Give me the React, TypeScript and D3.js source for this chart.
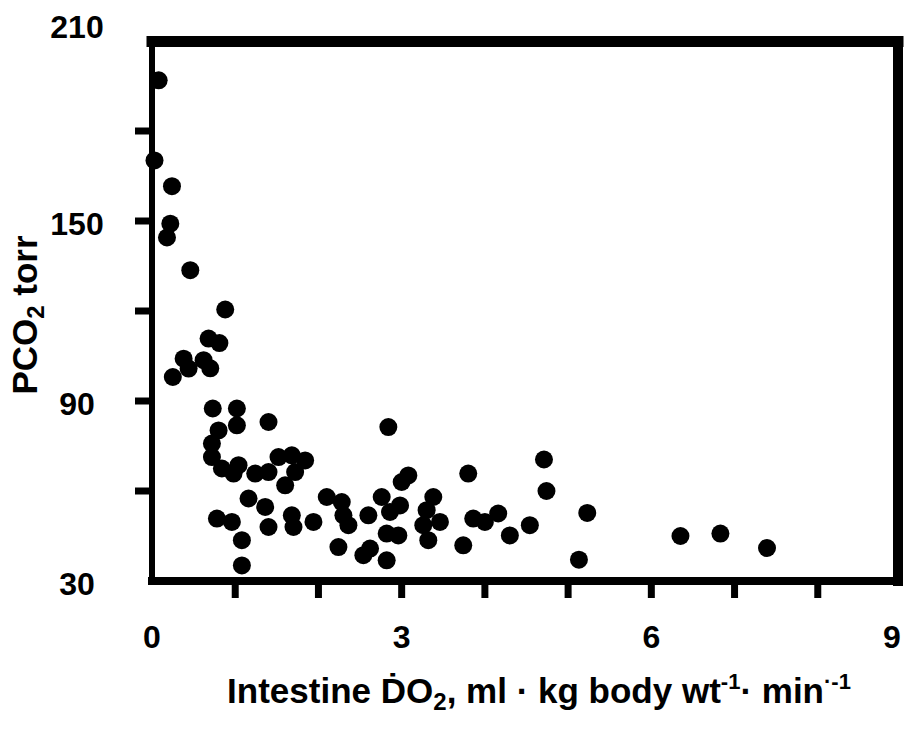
import React from "react";
import * as d3 from "d3";

// intestine oxygen delivery (ml/kg/min) and PCO2 (torr)
const do2 = [
  0.08, 0.03, 0.24, 0.22, 0.18, 0.46, 0.88, 0.68, 0.81, 0.38,
  0.44, 0.25, 0.62, 0.7, 0.73, 1.02, 1.4, 2.84, 0.8, 1.02,
  0.72, 0.72, 0.84, 1.04, 0.98, 1.24, 1.4, 1.52, 1.68, 1.84,
  1.72, 1.6, 1.16, 1.36, 0.78, 0.96, 1.08, 1.08, 1.4, 1.68,
  1.7, 1.94, 2.1, 2.28, 2.3, 2.36, 2.24, 2.6, 2.54, 2.62,
  2.82, 3.0, 3.08, 2.76, 2.86, 2.98, 2.82, 2.96, 3.38, 3.3,
  3.26, 3.46, 3.32, 3.8, 3.86, 4.0, 3.74, 4.16, 4.3, 4.54,
  4.71, 4.74, 5.23, 5.13, 6.35, 6.83, 7.39,
];
const pco2 = [
  196.9, 170.2, 161.6, 149.1, 144.5, 133.6, 120.5, 110.8, 109.3, 104.1,
  100.8, 98.0, 103.6, 100.9, 87.5, 87.5, 83.0, 81.3, 80.2, 81.9,
  75.8, 71.3, 67.5, 68.6, 65.8, 65.8, 66.3, 71.3, 71.9, 70.2,
  66.3, 61.9, 57.5, 54.7, 50.8, 49.7, 43.6, 35.2, 48.0, 51.9,
  48.0, 49.7, 58.0, 56.3, 51.9, 48.6, 41.3, 51.9, 38.6, 40.8,
  36.9, 63.0, 65.2, 58.0, 53.0, 55.2, 45.8, 45.2, 58.0, 53.6,
  48.6, 49.7, 43.6, 65.8, 50.8, 49.7, 41.9, 52.5, 45.2, 48.6,
  70.5, 60.0, 52.7, 37.1, 45.0, 45.8, 41.0,
];

const xTicks = [1, 2, 3, 4, 5, 6, 7, 8];
const xTickLabels = [0, 3, 6, 9];
const yTicks = [60, 90, 120, 150, 180];
const yTickLabels = [30, 90, 150, 210];

const W = 906;
const H = 732;
const FONT = "'Liberation Sans', Arial, Helvetica, sans-serif";

export default function App() {
  const x = d3.scaleLinear().domain([0, 9]).range([152, 901]);
  const y = d3.scaleLinear().domain([30, 210]).range([581, 41]);

  const left = 152;
  const right = 898;
  const top = 41.5;
  const bottom = 581;

  const points = do2.map((d, i) => ({ x: d, y: pco2[i] }));

  return (
    <svg
      width={W}
      height={H}
      viewBox={`0 0 ${W} ${H}`}
      style={{ position: "absolute", left: 0, top: 0, background: "#fff" }}
      fontFamily={FONT}
      fontWeight="bold"
    >
      <rect width={W} height={H} fill="#fff" />

      {/* points */}
      <g fill="#000">
        {points.map((p, i) => (
          <circle key={i} cx={x(p.x)} cy={y(p.y)} r={9} />
        ))}
      </g>

      {/* frame */}
      <g stroke="#000" strokeLinecap="square">
        <line x1={left} x2={left} y1={top} y2={bottom} strokeWidth={6} />
        <line x1={left} x2={right} y1={top} y2={top} strokeWidth={11} />
        <line x1={right} x2={right} y1={top} y2={bottom} strokeWidth={10} />
        <line x1={left} x2={right} y1={bottom} y2={bottom} strokeWidth={8} />
      </g>

      {/* ticks */}
      <g stroke="#000" strokeWidth={7}>
        {yTicks.map((t) => (
          <line key={t} x1={135} x2={left} y1={y(t)} y2={y(t)} />
        ))}
        {xTicks.map((t) => (
          <line key={t} x1={x(t)} x2={x(t)} y1={bottom} y2={598} />
        ))}
      </g>

      {/* tick labels */}
      <g fontSize={32} textAnchor="middle" fill="#000">
        {yTickLabels.map((t) => (
          <text key={t} x={77} y={(t === 210 ? 26 : y(t) + 2) + 11.5}>
            {t}
          </text>
        ))}
        {xTickLabels.map((t) => (
          <text key={t} x={Math.min(x(t), 892)} y={648}>
            {t}
          </text>
        ))}
      </g>

      {/* y title */}
      <text
        transform="translate(37,315) rotate(-90)"
        textAnchor="middle"
        fontSize={35}
        fill="#000"
      >
        PCO
        <tspan fontSize={24} dy={7}>2</tspan>
        <tspan dy={-7}> torr</tspan>
      </text>

      {/* x title */}
      <text x={539} y={703} textAnchor="middle" fontSize={35} fill="#000">
        Intestine Ḋ
        <tspan>O</tspan>
        <tspan fontSize={24} dy={7}>2</tspan>
        <tspan dy={-7}>, ml ·  kg body wt</tspan>
        <tspan fontSize={22} dy={-14}>-1</tspan>
        <tspan dy={14}>· min</tspan>
        <tspan fontSize={22} dy={-14}>·-1</tspan>
      </text>
    </svg>
  );
}
